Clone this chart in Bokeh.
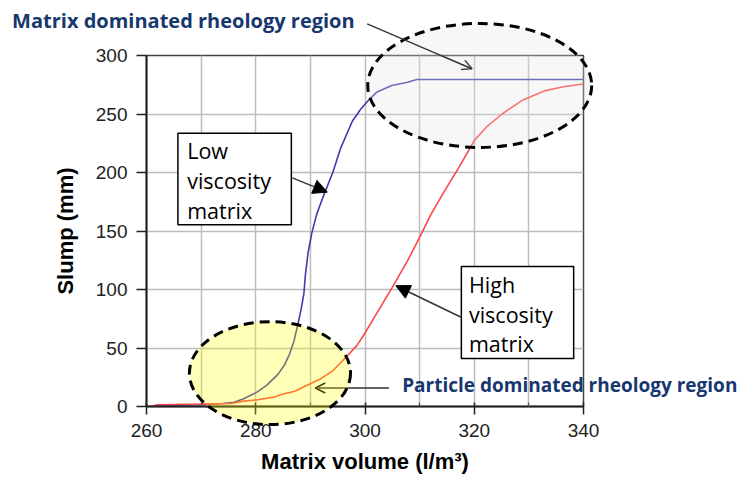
import numpy as np
from bokeh.plotting import figure
from bokeh.models import (Range1d, FixedTicker, Label, Arrow, NormalHead,
                          OpenHead, BoxAnnotation)
from bokeh.core.properties import value
from bokeh.embed import file_html
from bokeh.resources import INLINE

# ---- data ----
low_x = [261.5, 270, 274, 276, 277.8, 280.3, 282, 284.1, 285.2, 286.2, 287, 287.7,
         288.3, 288.8, 289.1, 289.6, 290.3, 291.2, 292.4, 294.1, 295.6, 297.7, 299.2,
         300.6, 302.1, 304.9, 307.8, 309.5, 340]
low_y = [1, 1.5, 2.5, 3.7, 6.6, 12.5, 18, 27.7, 35, 44.8, 56, 70,
         83, 96, 113, 132, 149, 165, 180, 200, 221.5, 244, 254,
         261.5, 268.5, 274.3, 277.2, 279.5, 279.5]

high_x = [260, 261.4, 262, 270, 275.5, 277.8, 280.3, 283.3, 284.8, 287, 289.8, 292,
          294.1, 296.7, 298.5, 299.9, 302.8, 305, 307.8, 310, 312.1, 314.6, 317.2,
          320, 322.2, 325.1, 328.7, 333, 336.6, 340]
high_y = [0, 0.5, 1.5, 2, 2.5, 4.6, 5.7, 8, 10.5, 12.8, 19, 24,
          30.5, 43, 52, 62, 84.7, 101.8, 124.6, 144.6, 164.5, 184.5, 204.4,
          227.3, 238.7, 250, 261.5, 270, 273.5, 275.7]

x_ticks = [260, 280, 300, 320, 340]
x_minor = [270, 290, 310, 330]
y_ticks = [0, 50, 100, 150, 200, 250, 300]

NAVY = "#17376E"
GRID = "#BDBDBD"

p = figure(width=740, height=480, x_range=Range1d(260, 340), y_range=Range1d(0, 300),
           output_backend="svg", toolbar_location=None,
           min_border_left=146, min_border_right=157, min_border_top=55, min_border_bottom=74)
p.outline_line_color = "#444444"
p.outline_line_width = 1.5
p.background_fill_color = "white"
p.border_fill_color = "white"

p.line(low_x, low_y, line_color="#3C3CAC", line_width=1.6)
p.line(high_x, high_y, line_color="#FF4545", line_width=1.6)

# axes
p.xaxis.ticker = FixedTicker(ticks=x_ticks, minor_ticks=x_minor)
p.yaxis.ticker = FixedTicker(ticks=y_ticks)
p.xgrid.grid_line_color = GRID
p.xgrid.grid_line_width = 1.5
p.xgrid.minor_grid_line_color = GRID
p.xgrid.minor_grid_line_width = 1.5
p.ygrid.grid_line_color = GRID
p.ygrid.grid_line_width = 1.5

for ax in (p.xaxis[0], p.yaxis[0]):
    ax.axis_line_color = "#222222"
    ax.axis_line_width = 2
    ax.major_tick_line_color = "#222222"
    ax.major_tick_line_width = 1.5
    ax.minor_tick_line_color = "#555555"
    ax.minor_tick_line_width = 1.2
    ax.major_label_text_font = "Liberation Sans"
    ax.major_label_text_font_size = "19px"
    ax.major_label_text_color = "#222222"
    ax.axis_label_text_font = "Liberation Sans"
    ax.axis_label_text_font_style = "bold"
    ax.axis_label_text_font_size = "22px"
    ax.axis_label_text_color = "black"

p.xaxis.major_tick_out = 8
p.xaxis.major_tick_in = 4
p.xaxis.minor_tick_out = 0
p.xaxis.minor_tick_in = 4
p.xaxis.major_label_standoff = 9
p.xaxis.axis_label = "Matrix volume (l/m³)"
p.xaxis.axis_label_standoff = 9

p.yaxis.major_tick_out = 10
p.yaxis.major_tick_in = 0
p.yaxis.minor_tick_out = 0
p.yaxis.minor_tick_in = 0
p.yaxis.major_label_standoff = 9
p.yaxis.axis_label = "Slump (mm)"
p.yaxis.axis_label_standoff = 15

# dashed region ellipses (overlay level so they may extend past the frame)
p.ellipse(x=[321], y=[274.4], width=[41], height=[106], fill_color="#E6E6E6",
          fill_alpha=0.3, line_color="black", line_width=3, line_dash="10 6",
          level="overlay")
p.ellipse(x=[282.6], y=[28.5], width=[29.5], height=[88], fill_color="#FFFF00",
          fill_alpha=0.28, line_color="black", line_width=3, line_dash="10 6",
          level="overlay")

# text boxes
p.add_layout(BoxAnnotation(left=265.75, right=286.52, top=233.6, bottom=155.3,
                           fill_color="white", fill_alpha=1, line_color="black",
                           line_alpha=1, line_width=1.5))
p.add_layout(BoxAnnotation(left=317.64, right=338.2, top=119.66, bottom=41.0,
                           fill_color="white", fill_alpha=1, line_color="black",
                           line_alpha=1, line_width=1.5))

for txt, yy in zip(["Low", "viscosity", "matrix"], [219.2, 193.4, 167.3]):
    p.add_layout(Label(x=267.45, y=yy, text=txt, text_font="Open Sans",
                       text_font_size="21.5px", text_color="black",
                       text_baseline="alphabetic", text_align="left"))
for txt, yy in zip(["High", "viscosity", "matrix"], [104.5, 78.8, 53.6]):
    p.add_layout(Label(x=319.03, y=yy, text=txt, text_font="Open Sans",
                       text_font_size="21.5px", text_color="black",
                       text_baseline="alphabetic", text_align="left"))

# region labels (outside the frame -> overlay-level text glyphs)
p.text(x=[235.4], y=[329.9], text=["Matrix dominated rheology region"],
       text_font=value("Open Sans"), text_font_style="bold", text_font_size="20px",
       text_color=NAVY, text_baseline="alphabetic", text_align="left", level="overlay")
p.text(x=[306.8], y=[18.2], text=["Particle dominated rheology region"],
       text_font=value("Open Sans"), text_font_style="bold", text_font_size="19px",
       text_color=NAVY, text_baseline="alphabetic", text_align="left", level="overlay")

# arrows
p.add_layout(Arrow(end=NormalHead(size=14, fill_color="black", line_color="black"),
                   x_start=286.7, y_start=195.4, x_end=293.1, y_end=183.2,
                   line_color="#333333", line_width=1.5))
p.add_layout(Arrow(end=NormalHead(size=14, fill_color="black", line_color="black"),
                   x_start=317.6, y_start=76.3, x_end=305.65, y_end=103.2,
                   line_color="#333333", line_width=1.5))
p.segment(x0=[300.4], y0=[327.1], x1=[319.6], y1=[288.6], line_color="#333333",
          line_width=1.3, level="overlay")
p.add_layout(Arrow(end=OpenHead(size=10, line_color="black", line_width=1.5),
                   x_start=300.4, y_start=327.1, x_end=319.6, y_end=288.6,
                   line_color="#333333", line_width=1.3))
p.add_layout(Arrow(end=OpenHead(size=10, line_color="black", line_width=1.5),
                   x_start=304.4, y_start=15.8, x_end=290.9, y_end=15.8,
                   line_color="#333333", line_width=1.3))

open("out.html", "w").write(file_html(p, INLINE))
